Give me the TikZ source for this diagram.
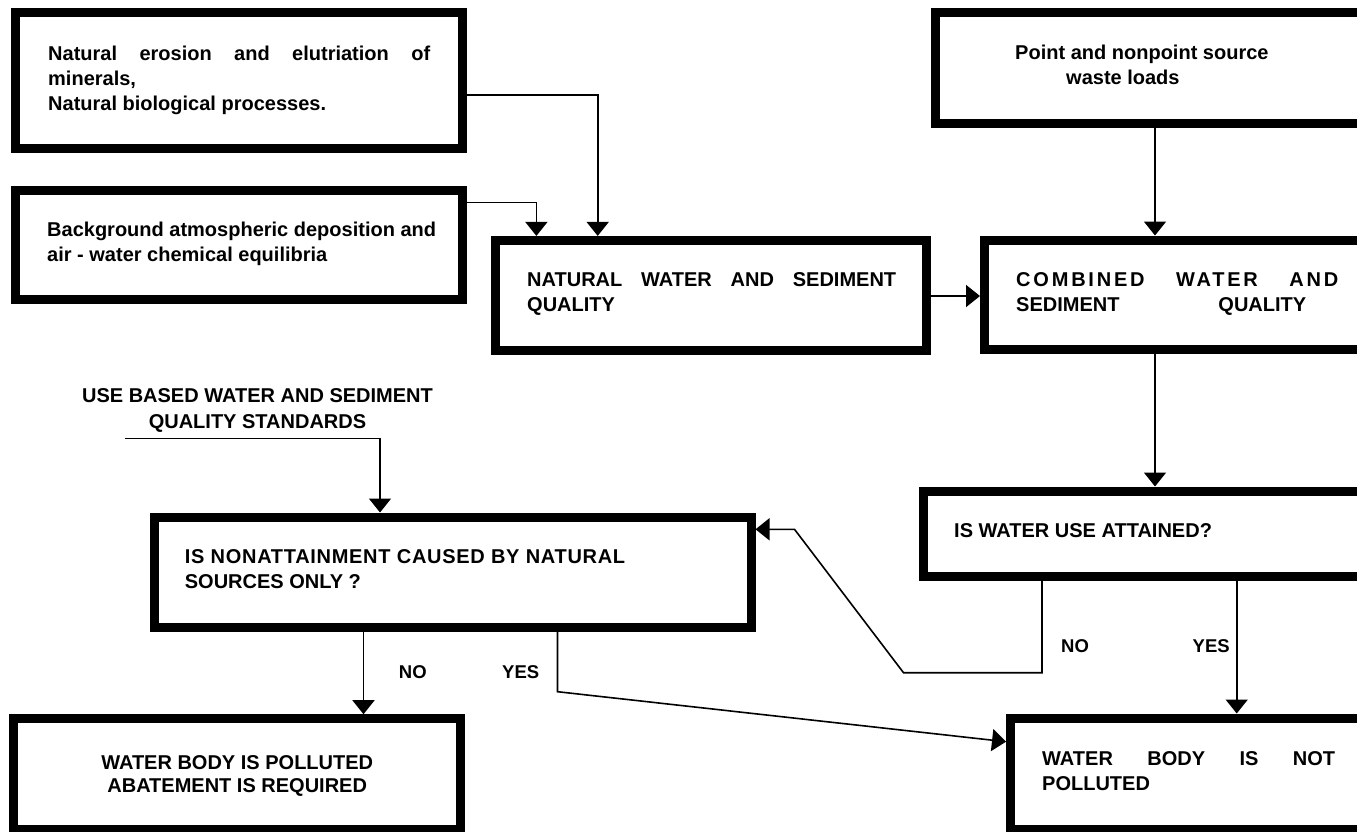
\documentclass[tikz,border=0pt]{standalone}
\usepackage{fontspec}
\setmainfont{Liberation Sans}
\usetikzlibrary{arrows.meta,calc}
\tikzset{
  box/.style={draw, line width=9pt, inner sep=0pt},
  conn/.style={line width=1.6pt, -{Triangle[length=14pt,width=22pt]}},
  spaced/.style={inner sep=0pt, anchor=base west, font=\fontsize{20}{25}\selectfont\bfseries},
  cond/.style={inner sep=0pt, anchor=base west, font=\fontsize{20}{25}\selectfont\bfseries},
  lab/.style={inner sep=0pt, anchor=base west, font=\fontsize{18.5}{23}\selectfont\bfseries},
}
\begin{document}
\begin{tikzpicture}[x=1pt,y=-1pt]
\useasboundingbox (0,0) rectangle (1357,831);
\clip (0,0) rectangle (1357,831);
\fill[white] (0,0) rectangle (1357,831);

% boxes
\node[box, minimum width=446.5pt, minimum height=136pt]   (b1) at (238.75,80.5) {};
\node[box, minimum width=446.5pt, minimum height=109.7pt] (b2) at (238.75,244.85) {};
\node[box, minimum width=431.5pt, minimum height=109.6pt] (b3) at (710.75,295.2) {};
\node[box, minimum width=465pt,   minimum height=111pt]   (b4) at (1167.5,68) {};
\node[box, minimum width=415.5pt, minimum height=109.5pt] (b5) at (1192.25,294.75) {};
\node[box, minimum width=476.3pt, minimum height=85pt]    (b6) at (1161.85,533.5) {};
\node[box, minimum width=596.7pt, minimum height=110.5pt] (b7) at (452.65,572.25) {};
\node[box, minimum width=446.6pt, minimum height=110.8pt] (b8) at (237.2,774.1) {};
\node[box, minimum width=389.5pt, minimum height=111.5pt] (b9) at (1205.25,773.75) {};

% texts
\node[spaced] (t1) at (48,60) {\parbox[t]{382pt}{\makebox[382pt][s]{Natural erosion and elutriation of}\\minerals,\\Natural biological processes.}};
\node[spaced] (t2) at (47,236) {\parbox[t]{400pt}{Background atmospheric deposition and\\air - water chemical equilibria}};
\node[spaced] (t3) at (527,286.5) {\parbox[t]{369pt}{\makebox[369pt][s]{NATURAL WATER AND SEDIMENT}\\QUALITY}};
\node[spaced] (t4) at (1015,59.3) {\parbox[t]{300pt}{Point and nonpoint source\\\hspace*{51pt}waste loads}};
\node[spaced] (t5) at (1016,286) {\parbox[t]{322pt}{\makebox[322pt][s]{\addfontfeature{LetterSpace=14}COMBINED WATER AND}\\\makebox[290pt][s]{SEDIMENT QUALITY}}};
\node[cond] (t6) at (954,537.3) {IS WATER USE ATTAINED?};
\node[cond] (t7) at (184.7,563.3) {\parbox[t]{470pt}{{\addfontfeature{LetterSpace=3.5}IS NONATTAINMENT CAUSED BY NATURAL}\\SOURCES ONLY ?}};
\node[cond, anchor=base, font=\fontsize{20}{23}\selectfont\bfseries] (t8) at (237.2,769.3) {\parbox[t]{400pt}{\centering WATER BODY IS POLLUTED\\ABATEMENT IS REQUIRED}};
\node[cond, font=\fontsize{20}{24.5}\selectfont\bfseries] (t9) at (1042,765.7) {\parbox[t]{293pt}{\makebox[293pt][s]{WATER BODY IS NOT}\\POLLUTED}};
\node[cond, anchor=base, font=\fontsize{20}{26}\selectfont\bfseries] (t10) at (257.5,402.3) {\parbox[t]{400pt}{\centering USE BASED WATER AND SEDIMENT\\QUALITY STANDARDS}};
\node[lab] (n1) at (398.7,678.3) {NO};
\node[lab] (y1) at (502,678.3) {YES};
\node[lab] (n2) at (1061,652.7) {NO};
\node[lab] (y2) at (1192.5,652.7) {YES};

% connector bend points
\coordinate (k1) at (597.7,95);
\coordinate (k2) at (536.4,202.5);
\coordinate (k3) at (960,296);
\coordinate (k4) at (1155,0);
\coordinate (k5) at (1042,672.7);
\coordinate (k6) at (903.5,672.7);
\coordinate (k7) at (794.5,529.3);
\coordinate (k8) at (1236.7,0);
\coordinate (k9) at (125,438.3);
\coordinate (k10) at (380,438.3);
\coordinate (k11) at (363.5,0);
\coordinate (k12) at (557.5,691.7);
\coordinate (k13) at (0,741.7);

% connectors
\draw[conn] (b1.east |- k1) -- (k1) -- (b3.north -| k1);
\draw[conn] (b2.east |- k2) -- (k2) -- (b3.north -| k2);
\draw[conn] (b3.east |- k3) -- (b5.west |- k3);
\draw[conn] (b4.south -| k4) -- (b5.north -| k4);
\draw[conn] (b5.south -| k4) -- (b6.north -| k4);
\draw[conn] (b6.south -| k5) -- (k5) -- (k6) -- (k7) -- (b7.east |- k7);
\draw[conn] (b6.south -| k8) -- (b9.north -| k8);
\draw[conn] (k9) -- (k10) -- (b7.north -| k10);
\draw[conn] (b7.south -| k11) -- (b8.north -| k11);
\draw[conn] (b7.south -| k12) -- (k12) -- (b9.west |- k13);
\end{tikzpicture}
\end{document}
